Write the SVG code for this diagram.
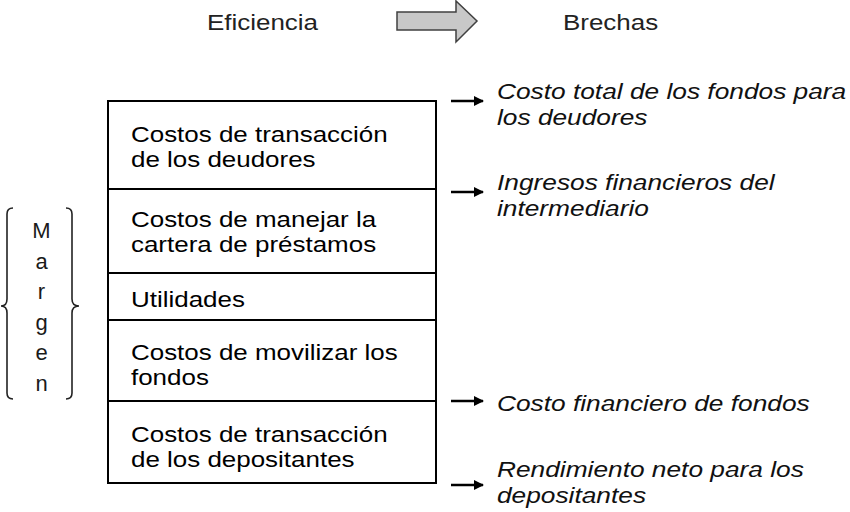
<svg xmlns="http://www.w3.org/2000/svg" width="850" height="512" viewBox="0 0 850 512">
<style>
.t{font-family:"Liberation Sans",Arial,sans-serif;font-size:22px;fill:#000}
.h{font-family:"Liberation Sans",Arial,sans-serif;font-size:22px;fill:#222}
.i{font-family:"Liberation Sans",Arial,sans-serif;font-size:22px;font-style:italic;fill:#111}
.m{font-family:"Liberation Sans",Arial,sans-serif;font-size:22px;fill:#1a1a1a;text-anchor:middle}
.box{fill:#fff;stroke:#000;stroke-width:2}
.div{stroke:#000;stroke-width:2}
.brace{fill:none;stroke:#222;stroke-width:1.6}
.conn{stroke:#000;stroke-width:2.5}
</style>
<defs>
<marker id="ah" viewBox="0 0 10 10" refX="9" refY="5" markerWidth="4" markerHeight="4" orient="auto" markerUnits="strokeWidth">
<path d="M0,0 L10,5 L0,10 z" fill="#000"/>
</marker>
</defs>
<rect width="850" height="512" fill="#fff"/>

<g id="header">
<g transform="scale(1.18,1)">
<text class="h" x="175.4" y="30">Eficiencia</text>
<text class="h" x="477.1" y="30">Brechas</text>
</g>
<polygon points="397,12 456,12 456,1 477,21 456,42 456,30 397,30" fill="#c8c8c8" stroke="#404040" stroke-width="1.5"/>
</g>

<g id="stack">
<rect class="box" x="108" y="101" width="328" height="382"/>
<line class="div" x1="108" y1="189" x2="436" y2="189"/>
<line class="div" x1="108" y1="273" x2="436" y2="273"/>
<line class="div" x1="108" y1="320" x2="436" y2="320"/>
<line class="div" x1="108" y1="401" x2="436" y2="401"/>
</g>

<g transform="scale(1.18,1)">
<g id="n1"><text class="t" x="111" y="142">Costos de transacción</text><text class="t" x="111" y="167">de los deudores</text></g>
<g id="n2"><text class="t" x="111" y="227">Costos de manejar la</text><text class="t" x="111" y="252">cartera de préstamos</text></g>
<g id="n3"><text class="t" x="111" y="307">Utilidades</text></g>
<g id="n4"><text class="t" x="111" y="360">Costos de movilizar los</text><text class="t" x="111" y="385">fondos</text></g>
<g id="n5"><text class="t" x="111" y="442">Costos de transacción</text><text class="t" x="111" y="467">de los depositantes</text></g>
</g>

<g transform="scale(1.195,1)">
<g id="r1"><text class="i" x="415.9" y="99">Costo total de los fondos para</text><text class="i" x="415.9" y="125">los deudores</text></g>
<g id="r2"><text class="i" x="415.9" y="190">Ingresos financieros del</text><text class="i" x="415.9" y="216">intermediario</text></g>
<g id="r3"><text class="i" x="415.9" y="411">Costo financiero de fondos</text></g>
<g id="r4"><text class="i" x="415.9" y="477">Rendimiento neto para los</text><text class="i" x="415.9" y="503">depositantes</text></g>
</g>

<g id="margen">
<path class="brace" d="M13,208 Q7,208 7,214 L7,299 Q7,306 1,306 Q7,306 7,313 L7,393 Q7,399 13,399"/>
<path class="brace" d="M66,208 Q72,208 72,214 L72,299 Q72,306 79,306 Q72,306 72,313 L72,393 Q72,399 66,399"/>
<text class="m" x="41.5" y="238">M</text>
<text class="m" x="41.5" y="268.5">a</text>
<text class="m" x="41.5" y="299">r</text>
<text class="m" x="41.5" y="329.5">g</text>
<text class="m" x="41.5" y="360">e</text>
<text class="m" x="41.5" y="390.5">n</text>
</g>

<g id="connectors">
<line class="conn" x1="451" y1="101" x2="483" y2="101" marker-end="url(#ah)"/>
<line class="conn" x1="451" y1="192" x2="483" y2="192" marker-end="url(#ah)"/>
<line class="conn" x1="451" y1="401" x2="483" y2="401" marker-end="url(#ah)"/>
<line class="conn" x1="451" y1="485" x2="483" y2="485" marker-end="url(#ah)"/>
</g>
</svg>
